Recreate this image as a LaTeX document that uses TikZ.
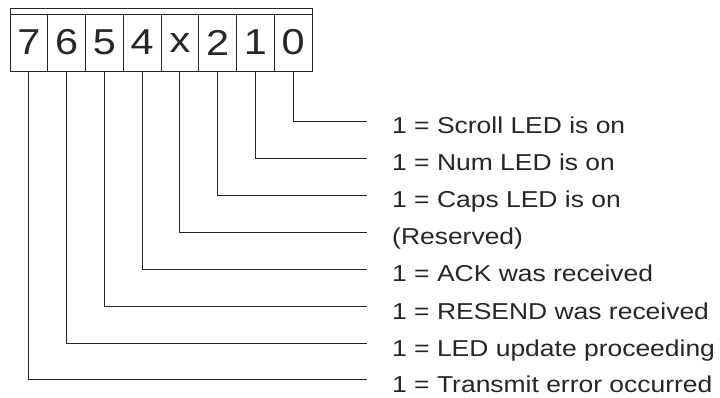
\documentclass[tikz,border=0pt]{standalone}
\usepackage{fontspec}
\setmainfont{Liberation Sans}
\newfontfamily\lblfont[FakeStretch=1.15]{Liberation Sans}
\usetikzlibrary{positioning}
\tikzset{
  bitcell/.style={
    rectangle,
    draw=black!85,
    line width=0.8pt,
    minimum width=37.75pt,
    minimum height=57pt,
    inner sep=0pt,
    outer sep=0pt,
    font=\lblfont\fontsize{36}{36}\selectfont,
    text=black!85
  },
  desc/.style={
    anchor=base west,
    inner sep=0pt,
    font=\lblfont\fontsize{23}{23}\selectfont,
    text=black!85
  },
  lead/.style={
    draw=black!85,
    line width=0.8pt
  }
}
\begin{document}
\begin{tikzpicture}[x=1pt,y=-1pt]
\useasboundingbox (0,0) rectangle (720,397);

\node[bitcell] (b7) at (28.875,42.5) {7};
\node[bitcell, right=0pt of b7] (b6) {6};
\node[bitcell, right=0pt of b6] (b5) {5};
\node[bitcell, right=0pt of b5] (b4) {4};
\node[bitcell, right=0pt of b4] (b3) {x};
\node[bitcell, right=0pt of b3] (b2) {2};
\node[bitcell, right=0pt of b2] (b1) {1};
\node[bitcell, right=0pt of b1] (b0) {0};

% bar on top of the register
\draw[lead] (b7.north west) rectangle ([yshift=6pt]b0.north east);

\node[desc] (l0) at (392,133.5) {1 = Scroll LED is on};
\node[desc] (l1) at (392,170.6) {1 = Num LED is on};
\node[desc] (l2) at (392,207.7) {1 = Caps LED is on};
\node[desc] (l3) at (392,244.8) {(Reserved)};
\node[desc] (l4) at (392,281.9) {1 = ACK was received};
\node[desc] (l5) at (392,319) {1 = RESEND was received};
\node[desc] (l6) at (392,356.1) {1 = LED update proceeding};
\node[desc] (l7) at (392,392.2) {1 = Transmit error occurred};

\draw[lead] (b0.south) |- ([shift={(-25pt,12.5pt)}]l0.base west);
\draw[lead] (b1.south) |- ([shift={(-25pt,12.5pt)}]l1.base west);
\draw[lead] (b2.south) |- ([shift={(-25pt,12.5pt)}]l2.base west);
\draw[lead] (b3.south) |- ([shift={(-25pt,12.5pt)}]l3.base west);
\draw[lead] (b4.south) |- ([shift={(-25pt,12.5pt)}]l4.base west);
\draw[lead] (b5.south) |- ([shift={(-25pt,12.5pt)}]l5.base west);
\draw[lead] (b6.south) |- ([shift={(-25pt,12.5pt)}]l6.base west);
\draw[lead] (b7.south) |- ([shift={(-25pt,12.5pt)}]l7.base west);

\end{tikzpicture}
\end{document}
